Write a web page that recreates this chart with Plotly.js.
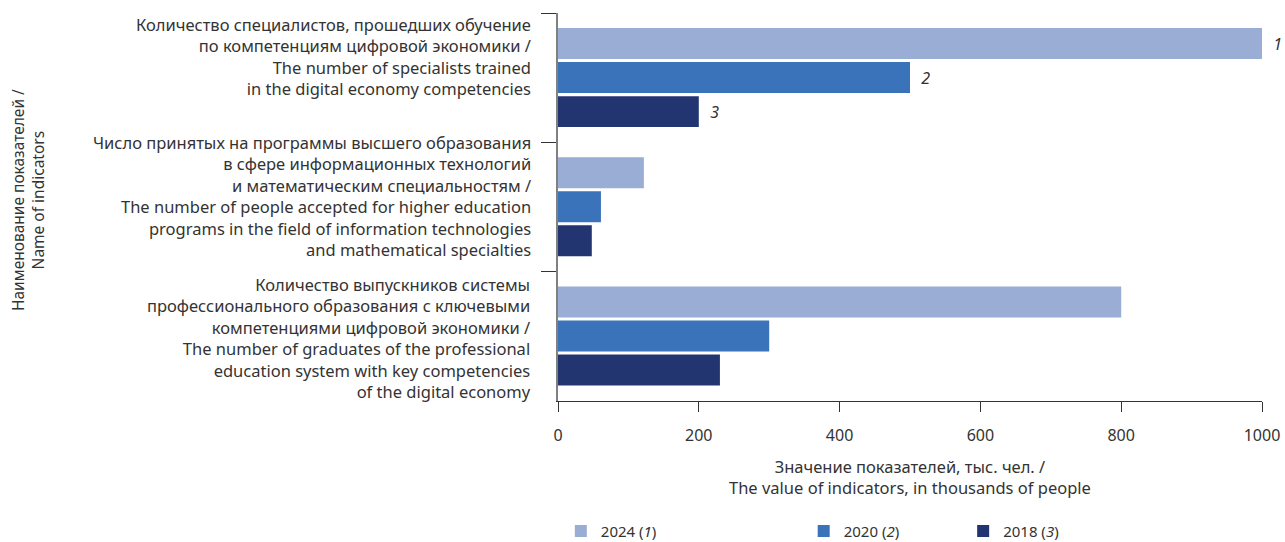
<!DOCTYPE html>
<html>
<head>
<meta charset="utf-8">
<script src="https://cdn.plot.ly/plotly-3.0.1.min.js"></script>
<style>html,body{margin:0;padding:0;background:#fff;}#chart{width:1285px;height:542px;}</style>
</head>
<body>
<div id="chart"></div>
<script>
const categories = [
  "Количество специалистов, прошедших обучение<br>по компетенциям цифровой экономики /<br>The number of specialists trained<br>in the digital economy competencies",
  "Число принятых на программы высшего образования<br>в сфере информационных технологий<br>и математическим специальностям /<br>The number of people accepted for higher education<br>programs in the field of information technologies<br>and mathematical specialties",
  "Количество выпускников системы<br>профессионального образования с ключевыми<br>компетенциями цифровой экономики /<br>The number of graduates of the professional<br>education system with key competencies<br>of the digital economy"
];
const seriesNames = ["2024 (<i>1</i>)", "2020 (<i>2</i>)", "2018 (<i>3</i>)"];
const values2024 = [1000, 122, 800];
const values2020 = [500, 61, 300];
const values2018 = [200, 48, 230];
const barLabels2024 = ["1", "", ""];
const barLabels2020 = ["2", "", ""];
const barLabels2018 = ["3", "", ""];
const xTicks = [0, 200, 400, 600, 800, 1000];
const yTitle = "Наименование показателей /<br>Name of indicators";
const xTitle = "Значение показателей, тыс. чел. /<br>The value of indicators, in thousands of people";

const colors = ["#99add5", "#3b73ba", "#233570"];
const FONT = "Noto Sans, Open Sans, sans-serif";
const TXT = "#333333";
const labelShift = [21, 11, -2];

function lab(arr) { return arr.map(t => t ? "\u00a0\u00a0<i>" + t + "</i>" : ""); }

const allValues = [values2024, values2020, values2018];
const allLabels = [barLabels2024, barLabels2020, barLabels2018];
const legendIds = ["legend", "legend2", "legend3"];
const legendX = [0.004, 0.349, 0.5755];

const traces = allValues.map((vals, i) => ({
  type: "bar",
  orientation: "h",
  name: seriesNames[i],
  x: vals,
  y: categories,
  marker: { color: colors[i] },
  text: lab(allLabels[i]),
  textposition: "outside",
  cliponaxis: false,
  textfont: { family: FONT, size: 16, color: TXT },
  legend: legendIds[i],
  hoverinfo: "x+name"
}));

const annotations = categories.map((c, i) => ({
  xref: "paper", yref: "y", x: 0, y: c,
  xanchor: "right", yanchor: "middle", align: "right",
  xshift: -25, yshift: labelShift[i],
  text: c, showarrow: false,
  font: { family: FONT, size: 16.5, color: TXT }
}));
annotations.push({
  xref: "paper", yref: "paper", x: 0, y: 0.518,
  xshift: -530, xanchor: "center", yanchor: "middle",
  textangle: -90, text: yTitle, showarrow: false,
  font: { family: FONT, size: 15.5, color: TXT }
});
annotations.push({
  xref: "paper", yref: "paper", x: 0.5, y: -0.196,
  xanchor: "center", yanchor: "middle",
  text: xTitle, showarrow: false,
  font: { family: FONT, size: 16.5, color: TXT }
});

const legendBase = {
  orientation: "h", xanchor: "left", yanchor: "middle",
  yref: "container", y: 0.02,
  font: { family: FONT, size: 15, color: TXT },
  bgcolor: "rgba(0,0,0,0)"
};

const layout = {
  width: 1285, height: 542,
  margin: { l: 558, r: 23, t: 13, b: 141 },
  paper_bgcolor: "#ffffff",
  plot_bgcolor: "#ffffff",
  barmode: "group",
  bargap: 0.21,
  bargroupgap: 0.09,
  font: { family: FONT, color: TXT },
  showlegend: true,
  xaxis: {
    range: [0, 1000],
    tickvals: xTicks,
    ticktext: xTicks.map(String),
    showgrid: false, zeroline: false,
    showline: true, linecolor: "#333333", linewidth: 1,
    ticks: "outside", ticklen: 10, tickcolor: "#333333",
    ticklabelstandoff: 10,
    tickfont: { family: FONT, size: 16, color: TXT },
    fixedrange: true
  },
  yaxis: {
    type: "category",
    autorange: "reversed",
    showticklabels: false,
    showgrid: false, zeroline: false,
    showline: true, linecolor: "#808080", linewidth: 2,
    ticks: "outside", ticklen: 15, tickcolor: "#333333",
    tickson: "boundaries",
    fixedrange: true
  },
  legend: Object.assign({}, legendBase, { x: legendX[0] }),
  legend2: Object.assign({}, legendBase, { x: legendX[1] }),
  legend3: Object.assign({}, legendBase, { x: legendX[2] }),
  annotations: annotations
};

Plotly.newPlot("chart", traces, layout, { displayModeBar: false, staticPlot: true });
</script>
</body>
</html>
